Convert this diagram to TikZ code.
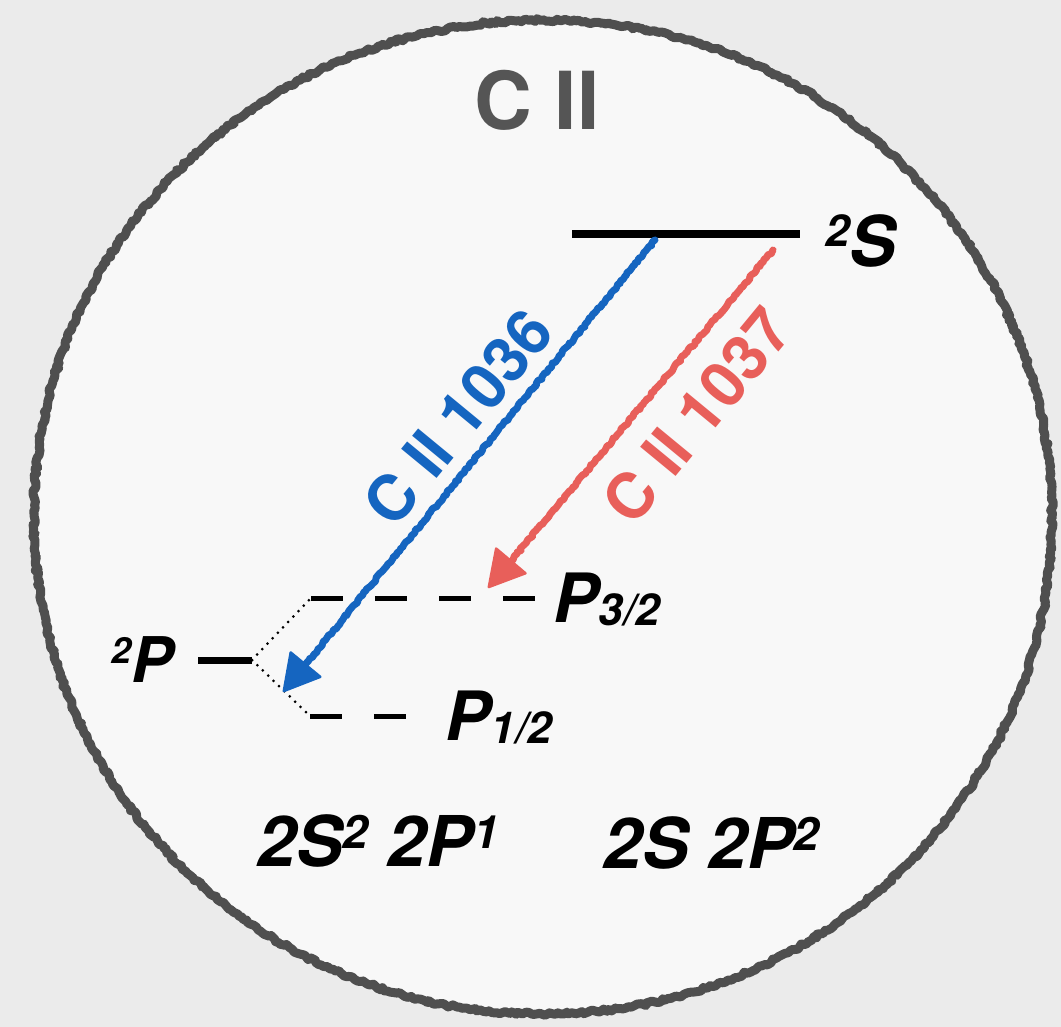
\documentclass[tikz,border=0pt]{standalone}
\usepackage{fontspec}
\setmainfont{TeX Gyre Heros}
\usetikzlibrary{arrows.meta,decorations.pathmorphing,calc}
\definecolor{bgc}{HTML}{EBEBEB}
\definecolor{discc}{HTML}{F8F8F8}
\definecolor{rimc}{HTML}{4F4F4F}
\definecolor{titlec}{HTML}{555555}
\definecolor{bluec}{HTML}{1565C0}
\definecolor{redc}{HTML}{E85F5A}
\newcommand\myraise[3]{\raisebox{#1pt}{\fontsize{#2}{#2}\selectfont #3}}
\newcommand\mylower[3]{\raisebox{-#1pt}{\fontsize{#2}{#2}\selectfont #3}}
\tikzset{
  rim/.style={draw=rimc, fill=discc, line width=9pt, line join=round, decorate,
    decoration={random steps, segment length=3pt, amplitude=1.6pt}},
  lvl/.style={line width=#1, black},
  lvl/.default=8pt,
  dashlvl/.style={line width=5pt, black, dash pattern=on 32pt off 32pt},
  dotlink/.style={line width=3pt, black, line cap=round, dash pattern=on 0pt off 7.5pt},
  rough/.style={line width=7pt, line cap=round, line join=round, decorate,
    decoration={random steps, segment length=2.5pt, amplitude=1.1pt}},
  tipline/.style={line width=2.5pt, line join=round, -{Triangle[length=38pt,width=42pt,round]}},
  bi/.style={inner sep=0pt, anchor=base west, font=\fontsize{#1}{#1}\selectfont\bfseries\itshape},
  arrlbl/.style={inner sep=0pt, rotate=50.5, font=\fontsize{63}{63}\selectfont\bfseries},
}
\begin{document}
\begin{tikzpicture}[x=1pt, y=-1pt]
\useasboundingbox (0,0) rectangle (1061,1027);
\fill[bgc] (0,0) rectangle (1061,1027);
\path[rim] (543,517) ellipse [x radius=509, y radius=497];

\node[inner sep=0pt, anchor=base, text=titlec, font=\fontsize{80}{80}\selectfont\bfseries] (title) at (537,130) {C II};

% levels
\coordinate (s2a) at (572,234);
\coordinate (s2b) at (800,234);
\draw[lvl] (s2a) -- (s2b);
\node[bi=70] (s2lbl) at (825,267) {\myraise{20}{44}{2}S};

\coordinate (p0a) at (198,660);
\coordinate (p0b) at (252,660);
\draw[lvl=7pt] (p0a) -- (p0b);
\node[bi=63] (p0lbl) at (111,682) {\myraise{19}{36}{2}P};

\coordinate (p3a) at (311,598);
\coordinate (p3b) at (535,598);
\draw[dashlvl] (p3a) -- (p3b);
\node[bi=68] (p3lbl) at (553,622) {P\mylower{3}{44}{3/2}};

\coordinate (p1a) at (310,716);
\coordinate (p1b) at (406,716);
\draw[dashlvl] (p1a) -- (p1b);
\node[bi=68] (p1lbl) at (445,740) {P\mylower{3}{44}{1/2}};

\draw[dotlink] (p0b) -- (p3a);
\draw[dotlink] (p0b) -- (p1a);

% transitions
\coordinate (b0) at (655,240);
\coordinate (b1) at (283,692);
\coordinate (r0) at (773,250);
\coordinate (r1) at (488,588);
\draw[rough, bluec] (b0) -- ($(b1)!30pt!(b0)$);
\draw[tipline, bluec] ($(b1)!40pt!(b0)$) -- (b1);
\draw[rough, redc] (r0) -- ($(r1)!30pt!(r0)$);
\draw[tipline, redc] ($(r1)!40pt!(r0)$) -- (r1);

\node[arrlbl, text=bluec] (blbl) at (458,417) {C II 1036};
\node[arrlbl, text=redc] (rlbl) at (697,415) {C II 1037};

% configurations
\node[bi=70] (conf1) at (257,866) {2S\myraise{18}{46}{2} 2P\myraise{18}{46}{1}};
\node[bi=70] (conf2) at (603,868) {2S 2P\myraise{18}{46}{2}};
\end{tikzpicture}
\end{document}
